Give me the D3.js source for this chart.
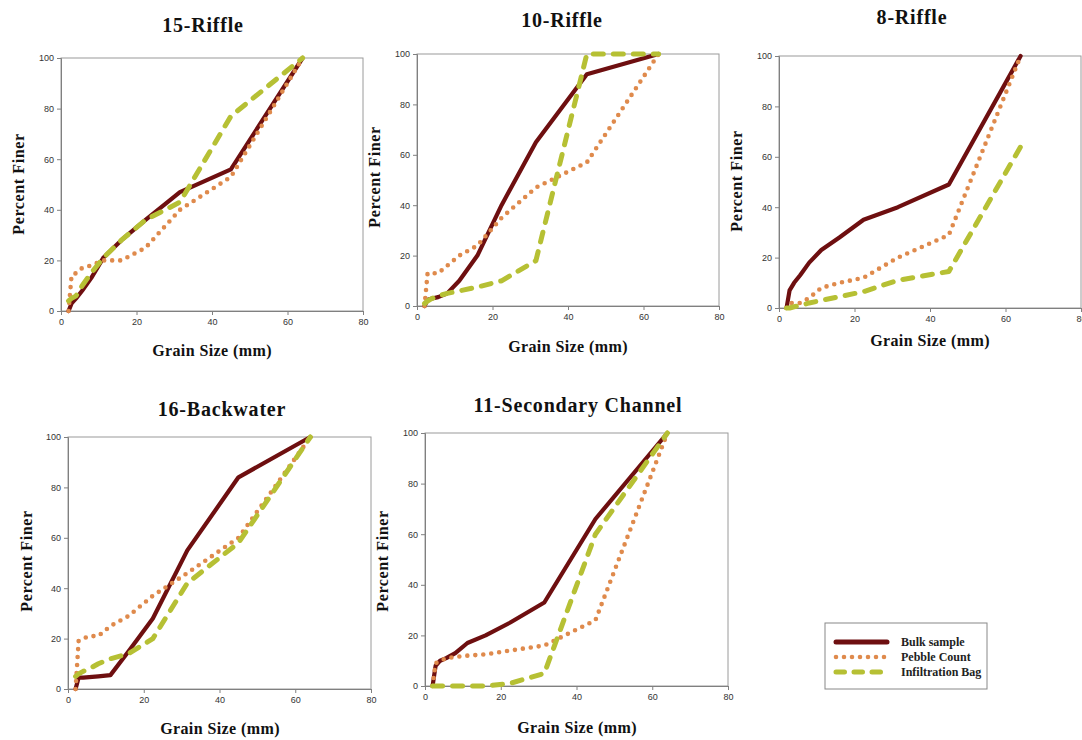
<!DOCTYPE html>
<html>
<head>
<meta charset="utf-8">
<script src="https://cdnjs.cloudflare.com/ajax/libs/d3/7.8.5/d3.min.js"></script>
<style>
body { margin: 0; background: #fff; }
</style>
</head>
<body>
<div id="chart"></div>
<script>
// sieve sizes (mm) shared by every curve
const grainSize = [2, 2.8, 4, 5.6, 8, 11.2, 16, 22.4, 31.5, 45, 64];
const siteNames = ["15-Riffle", "10-Riffle", "8-Riffle", "16-Backwater", "11-Secondary Channel"];
const seriesNames = ["Bulk sample", "Pebble Count", "Infiltration Bag"];

// percent finer, one row per site
const bulkSample = [
  [0, 3, 5, 8, 13, 21, 28, 36, 47, 56, 100],
  [0, 2.5, 3, 3.5, 5, 10, 20, 40, 65, 92, 100],
  [0, 7, 10, 13, 18, 23, 28, 35, 40, 49, 100],
  [0, 4.5, 4.5, 4.7, 5, 5.5, 15, 28, 55, 84, 100],
  [0, 8, 10, 11, 13, 17, 20, 25, 33, 66, 100]
];
const pebbleCount = [
  [0, 14, 15, 17, 18, 20, 20, 25, 40, 53, 100],
  [0, 13, 13, 13, 16, 20, 24, 35, 47, 57, 100],
  [0, 2, 2, 2, 4, 8, 10, 12, 20, 29, 100],
  [0, 19, 20, 21, 21, 25, 29, 37, 46, 60, 100],
  [0, 9, 10, 11, 11.5, 12, 12.5, 14, 16, 26, 100]
];
const infiltrationBag = [
  [4, 5, 6, 10, 15, 21, 28, 36, 43, 77, 100],
  [1, 2, 3, 4, 5, 6, 7.5, 10, 18, 100, 100],
  [0, 0, 0.5, 1, 2, 3, 4.5, 6.5, 11, 14.5, 64],
  [5, 6, 7, 8, 10, 12, 14, 20, 42, 58, 100],
  [0, 0, 0, 0, 0, 0, 0, 1, 5, 60, 100]
];
const xTicks = [0, 20, 40, 60, 80];
const yTicks = [0, 20, 40, 60, 80, 100];

const width = 1082;
const height = 740;

// where each small chart sits on the page
const layout = [
  {plot: [61, 58, 363, 311], title: [203, 32], xLab: [212, 356], yLab: [24, 184]},
  {plot: [417, 54, 719, 306], title: [562, 27], xLab: [568, 352], yLab: [380, 177]},
  {plot: [779, 56, 1081, 308], title: [912, 24], xLab: [930, 346], yLab: [742, 181]},
  {plot: [68, 437, 371, 689], title: [222, 416], xLab: [220, 734], yLab: [32, 561]},
  {plot: [425, 433, 728, 686], title: [578, 412], xLab: [577, 733], yLab: [388, 561]}
];

const styles = [
  {color: "#6e0f10", width: 4.2, dash: null, cap: "round"},
  {color: "#df8a4c", width: 4.6, dash: "0 8", cap: "round"},
  {color: "#b6c034", width: 5, dash: "10 10", cap: "round"}
];

const serif = "'Liberation Serif', 'Times New Roman', serif";

const svg = d3.select("#chart").append("svg")
  .attr("width", width)
  .attr("height", height)
  .attr("viewBox", [0, 0, width, height]);

svg.append("rect").attr("width", width).attr("height", height).attr("fill", "#fff");

siteNames.forEach((name, i) => {
  const L = layout[i];
  const [x0, y0, x1, y1] = L.plot;

  const xScale = d3.scaleLinear().domain([0, 80]).range([x0, x1]);
  const yScale = d3.scaleLinear().domain([0, 100]).range([y1, y0]);

  const g = svg.append("g");

  // frame
  g.append("rect")
    .attr("x", x0).attr("y", y0)
    .attr("width", x1 - x0).attr("height", y1 - y0)
    .attr("fill", "none")
    .attr("stroke", "#9a9a9a")
    .attr("stroke-width", 1);

  const xAxis = g.append("g")
    .attr("transform", `translate(0,${y1})`)
    .call(d3.axisBottom(xScale).tickValues(xTicks).tickSize(4).tickPadding(4));

  const yAxis = g.append("g")
    .attr("transform", `translate(${x0},0)`)
    .call(d3.axisLeft(yScale).tickValues(yTicks).tickSize(4).tickPadding(3));

  [xAxis, yAxis].forEach(ax => {
    ax.select(".domain").attr("stroke", "#808080");
    ax.selectAll(".tick line").attr("stroke", "#808080");
    ax.selectAll(".tick text")
      .attr("fill", "#333")
      .style("font-family", "'Liberation Sans', Arial, sans-serif")
      .style("font-size", "9px");
  });

  const lineFunc = d3.line()
    .defined(d => d.y != null)
    .x(d => xScale(d.x))
    .y(d => yScale(d.y));

  [bulkSample[i], pebbleCount[i], infiltrationBag[i]].forEach((vals, s) => {
    const pts = grainSize.map((x, k) => ({x: x, y: vals[k]}));
    const st = styles[s];
    g.append("path")
      .attr("d", lineFunc(pts))
      .attr("fill", "none")
      .attr("stroke", st.color)
      .attr("stroke-width", st.width)
      .attr("stroke-linecap", st.cap)
      .attr("stroke-linejoin", "round")
      .attr("stroke-dasharray", st.dash);
  });

  // titles
  g.append("text")
    .attr("x", L.title[0]).attr("y", L.title[1])
    .attr("text-anchor", "middle")
    .style("font-family", serif)
    .style("font-weight", "bold")
    .style("font-size", "20px")
    .style("letter-spacing", "0.8px")
    .attr("fill", "#111")
    .text(name);

  g.append("text")
    .attr("x", L.xLab[0]).attr("y", L.xLab[1])
    .attr("text-anchor", "middle")
    .style("font-family", serif)
    .style("font-weight", "bold")
    .style("font-size", "16px")
    .style("letter-spacing", "0.4px")
    .attr("fill", "#111")
    .text("Grain Size (mm)");

  g.append("text")
    .attr("transform", `translate(${L.yLab[0]},${L.yLab[1]}) rotate(-90)`)
    .attr("text-anchor", "middle")
    .style("font-family", serif)
    .style("font-weight", "bold")
    .style("font-size", "16px")
    .style("letter-spacing", "0.6px")
    .attr("fill", "#111")
    .text("Percent Finer");
});

// legend
const legend = svg.append("g");
legend.append("rect")
  .attr("x", 825).attr("y", 623)
  .attr("width", 162).attr("height", 66)
  .attr("fill", "#fff")
  .attr("stroke", "#888")
  .attr("stroke-width", 1);

const legendRow = d3.scalePoint().domain(seriesNames).range([642, 672]);

seriesNames.forEach((n, s) => {
  const st = styles[s];
  const y = legendRow(n);
  legend.append("line")
    .attr("x1", 836).attr("x2", 887)
    .attr("y1", y).attr("y2", y)
    .attr("stroke", st.color)
    .attr("stroke-width", s === 0 ? 5 : st.width)
    .attr("stroke-linecap", st.cap)
    .attr("stroke-dasharray", s === 2 ? "8.5 9.5" : st.dash);
  legend.append("text")
    .attr("x", 901).attr("y", y + 4)
    .style("font-family", serif)
    .style("font-weight", "bold")
    .style("font-size", "12px")
    .attr("fill", "#222")
    .text(n);
});
</script>
</body>
</html>
